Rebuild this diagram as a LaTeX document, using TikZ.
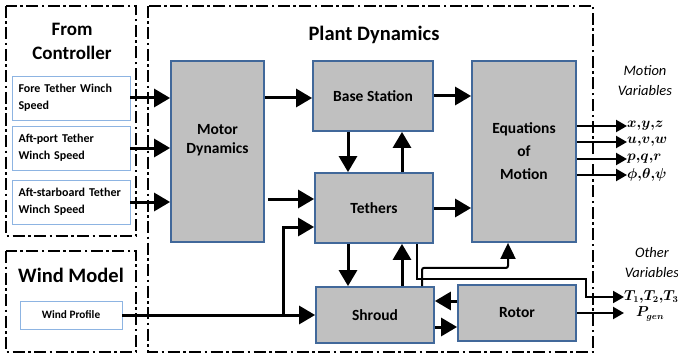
\documentclass[tikz,border=0pt]{standalone}
\usepackage{fontspec}
\setmainfont{Carlito}
\usepackage{bm}
\usetikzlibrary{arrows.meta,calc}

\definecolor{blockfill}{HTML}{C0C0C0}
\definecolor{blockline}{HTML}{41689A}
\definecolor{inputline}{HTML}{8DB4E2}

\begin{document}
\begin{tikzpicture}[x=1pt,y=-1pt,
  frame/.style={draw=black,line width=1.4pt,dash pattern=on 12pt off 3.5pt on 2.5pt off 3.5pt},
  block/.style={draw=blockline,fill=blockfill,line width=1.8pt,inner sep=0pt,align=center,
                font=\bfseries\fontsize{15.5}{19}\selectfont},
  inbox/.style={draw=inputline,fill=white,line width=0.9pt,inner sep=0pt,text width=105pt,
                align=left,minimum width=118pt,minimum height=44pt,
                font=\bfseries\fontsize{12}{17}\selectfont},
  bigarrow/.style={line width=3pt,-{Triangle[length=16pt,width=18pt]}},
  smallarrow/.style={line width=2.2pt,-{Triangle[length=11pt,width=12pt]}},
  title/.style={align=center,font=\bfseries\fontsize{20.5}{25}\selectfont},
  varlabel/.style={align=center,font=\itshape\fontsize{14.5}{20}\selectfont},
  mathlabel/.style={anchor=west,inner sep=0pt,font=\fontsize{13.5}{15}\selectfont}
]
\path[use as bounding box] (0,0) rectangle (678,361);

% dash-dot group frames
\draw[frame] (6,6) rectangle (136,236);
\draw[frame] (6,251) rectangle (136,352);
\draw[frame] (148,6) rectangle (593,352);

% group titles
\node[title,font=\bfseries\fontsize{19}{24}\selectfont] (fromctl) at (72,41) {From\\Controller};
\node[title] (plant) at (374,35) {Plant Dynamics};
\node[title] (windmodel) at (71,275) {Wind Model};

% controller inputs
\node[inbox] (fore) at (71,98) {Fore Tether Winch\\Speed};
\node[inbox] (aftp) at (71,148) {Aft-port Tether\\Winch Speed};
\node[inbox] (afts) at (71,202) {Aft-starboard Tether\\Winch Speed};
\node[draw=inputline,fill=white,line width=0.9pt,inner sep=0pt,minimum width=102pt,
      minimum height=28pt,font=\bfseries\fontsize{11.3}{14}\selectfont] (wp) at (71,315) {Wind Profile};

% plant blocks
\node[block,minimum width=93pt,minimum height=181pt] (md) at (217.5,151.5) {Motor\\Dynamics\\[6pt]};
\node[block,minimum width=120pt,minimum height=70pt] (bs) at (373,96) {Base Station};
\node[block,minimum width=118pt,minimum height=70pt] (te) at (374,208) {Tethers};
\node[block,minimum width=104pt,minimum height=181pt,font=\bfseries\fontsize{15.5}{23}\selectfont]
     (eom) at (524,151.5) {Equations\\of\\Motion};
\node[block,minimum width=118pt,minimum height=56pt] (sh) at (375,315) {Shroud};
\node[block,minimum width=118pt,minimum height=56pt] (ro) at (517,313) {Rotor};

% output labels
\node[varlabel] (motvar) at (645,81) {Motion\\Variables};
\node[varlabel] (othvar) at (652,263) {Other\\Variables};
\node[mathlabel] (xyz) at (627,126) {$\bm{x{,}y{,}z}$};
\node[mathlabel] (uvw) at (627,142) {$\bm{u{,}v{,}w}$};
\node[mathlabel] (pqr) at (627,159) {$\bm{p{,}q{,}r}$};
\node[mathlabel] (ang) at (627,175) {$\bm{\phi{,}\theta{,}\psi}$};
\node[mathlabel] (tt) at (624,297) {$\bm{T_1{,}T_2{,}T_3}$};
\node[mathlabel] (pg) at (636,314) {$\bm{P_{gen}}$};

% controller inputs into motor dynamics
\draw[bigarrow] (fore.east) -- (fore.east -| md.west);
\draw[bigarrow] (aftp.east) -- (aftp.east -| md.west);
\draw[bigarrow] (afts.east) -- (afts.east -| md.west);

% motor dynamics outputs
\draw[bigarrow] (md.east |- fore.east) -- (bs.west |- fore.east);
\coordinate (teIn) at ([yshift=9pt]te.west);
\draw[bigarrow] ($(teIn -| md.east)+(3,0)$) -- (teIn);

% wind profile into shroud, branch to tethers
\draw[bigarrow] (wp.east) -- (wp.east -| sh.west);
\coordinate (wj) at ($(wp.east -| md.east)+(19,0)$);
\draw[bigarrow] (wj) |- ([yshift=-19pt]te.west);

% base station <-> tethers
\draw[bigarrow] ([xshift=-25pt]bs.south) -- ([xshift=-25pt]bs.south |- te.north);
\draw[bigarrow] ([xshift=28pt]te.north) -- ([xshift=28pt]te.north |- bs.south);
% tethers <-> shroud
\draw[bigarrow] ([xshift=-26pt]te.south) -- ([xshift=-26pt]te.south |- sh.north);
\draw[bigarrow] ([xshift=27pt]sh.north) -- ([xshift=27pt]sh.north |- te.south);

% into equations of motion
\draw[bigarrow] (bs.east) -- (bs.east -| eom.west);
\draw[bigarrow] (te.east) -- (te.east -| eom.west);
\draw[line width=2pt,rounded corners=2pt,-{Triangle[length=16pt,width=15pt]}]
  ([xshift=47pt]sh.north) |- ($([xshift=-16pt]eom.south)+(0,25)$) -- ([xshift=-16pt]eom.south);

% rotor <-> shroud
\draw[bigarrow] ([yshift=12pt]ro.west) -- ([yshift=12pt]ro.west -| sh.east);
\draw[bigarrow] ([yshift=-12pt]sh.east) -- ([yshift=-12pt]sh.east -| ro.west);

% other variables
\draw[line width=2pt,-{Triangle[length=11pt,width=12pt]}]
  ([xshift=43pt]te.south) |- ($(tt.west)+(-38,-18)$) |- (tt.west);
\draw[smallarrow] (ro.east) -- (ro.east -| tt.west);

% motion variables
\draw[smallarrow] (eom.east |- xyz.west) -- (xyz.west);
\draw[smallarrow] (eom.east |- uvw.west) -- (uvw.west);
\draw[smallarrow] (eom.east |- pqr.west) -- (pqr.west);
\draw[smallarrow] (eom.east |- ang.west) -- (ang.west);
\end{tikzpicture}
\end{document}
